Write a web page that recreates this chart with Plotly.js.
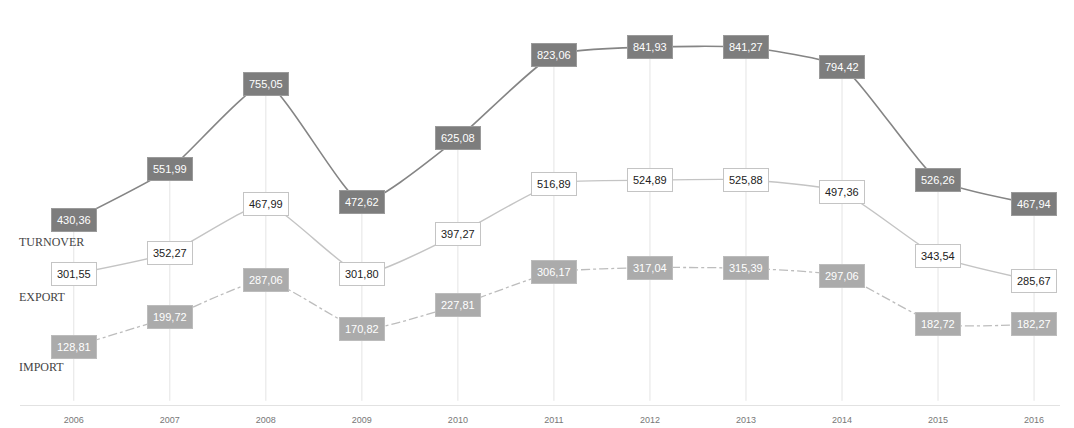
<!DOCTYPE html>
<html>
<head>
<meta charset="utf-8">
<script src="https://cdn.plot.ly/plotly-3.0.1.min.js"></script>
<style>html,body{margin:0;padding:0;background:#fff;}#chart{width:1074px;height:428px;}</style>
</head>
<body>
<div id="chart"></div>
<script>
var years = [2006, 2007, 2008, 2009, 2010, 2011, 2012, 2013, 2014, 2015, 2016];
var tickLabels = ['2006','2007','2008','2009','2010','2011','2012','2013','2014','2015','2016'];
var turnover = [430.36, 551.99, 755.05, 472.62, 625.08, 823.06, 841.93, 841.27, 794.42, 526.26, 467.94];
var exportVals = [301.55, 352.27, 467.99, 301.80, 397.27, 516.89, 524.89, 525.88, 497.36, 343.54, 285.67];
var importVals = [128.81, 199.72, 287.06, 170.82, 227.81, 306.17, 317.04, 315.39, 297.06, 182.72, 182.27];
var seriesNames = ['TURNOVER', 'EXPORT', 'IMPORT'];

function fmt(v){ return v.toFixed(2).replace('.', ','); }

// drop lines from turnover value to axis
var dx = [], dy = [];
years.forEach(function(y, i){ dx.push(y, y, null); dy.push(0, turnover[i], null); });

var traces = [
  {x: dx, y: dy, mode: 'lines', line: {color: '#e4e4e4', width: 1}, hoverinfo: 'skip', showlegend: false},
  {x: years, y: turnover, mode: 'lines', line: {color: '#858585', width: 1.6, shape: 'spline', smoothing: 0.5}, showlegend: false},
  {x: years, y: exportVals, mode: 'lines', line: {color: '#c4c4c4', width: 1.4, shape: 'spline', smoothing: 0.5}, showlegend: false},
  {x: years, y: importVals, mode: 'lines', line: {color: '#bdbdbd', width: 1.3, dash: 'dashdot', shape: 'spline', smoothing: 0.5}, showlegend: false}
];

var ann = [];
years.forEach(function(y, i){
  ann.push({x: y, y: turnover[i], xref: 'x', yref: 'y', text: fmt(turnover[i]), showarrow: false,
    font: {family: 'Liberation Sans, Arial', size: 11, color: '#ffffff'}, bgcolor: '#7d7d7d', bordercolor: '#9a9a9a', borderwidth: 1, borderpad: 5});
  ann.push({x: y, y: exportVals[i], xref: 'x', yref: 'y', text: fmt(exportVals[i]), showarrow: false,
    font: {family: 'Liberation Sans, Arial', size: 11, color: '#222222'}, bgcolor: '#ffffff', bordercolor: '#c4c4c4', borderwidth: 1, borderpad: 5});
  ann.push({x: y, y: importVals[i], xref: 'x', yref: 'y', text: fmt(importVals[i]), showarrow: false,
    font: {family: 'Liberation Sans, Arial', size: 11, color: '#ffffff'}, bgcolor: '#ababab', bordercolor: '#bcbcbc', borderwidth: 1, borderpad: 5});
});
var firstVals = [turnover[0], exportVals[0], importVals[0]];
var shifts = [-22, -23, -20];
seriesNames.forEach(function(n, k){
  ann.push({x: years[0], y: firstVals[k], xref: 'x', yref: 'y', text: n, showarrow: false,
    xanchor: 'left', yanchor: 'middle', xshift: -57, yshift: shifts[k],
    font: {family: 'Liberation Serif, Times New Roman, serif', size: 12, color: '#444444'}});
});

var layout = {
  width: 1074, height: 428,
  margin: {l: 20, r: 14, t: 5, b: 23},
  paper_bgcolor: '#ffffff', plot_bgcolor: '#ffffff',
  xaxis: {range: [2005.44, 2016.27], tickvals: years, ticktext: tickLabels, showgrid: false, zeroline: false,
    showline: true, linecolor: '#e2e2e2', linewidth: 1, ticks: '', ticklabelstandoff: 6,
    tickfont: {family: 'Liberation Sans, Arial', size: 9, color: '#777777'}},
  yaxis: {range: [-10, 942], showgrid: false, zeroline: false, showticklabels: false, showline: false},
  annotations: ann,
  showlegend: false
};

Plotly.newPlot('chart', traces, layout, {displayModeBar: false, staticPlot: true});
</script>
</body>
</html>
